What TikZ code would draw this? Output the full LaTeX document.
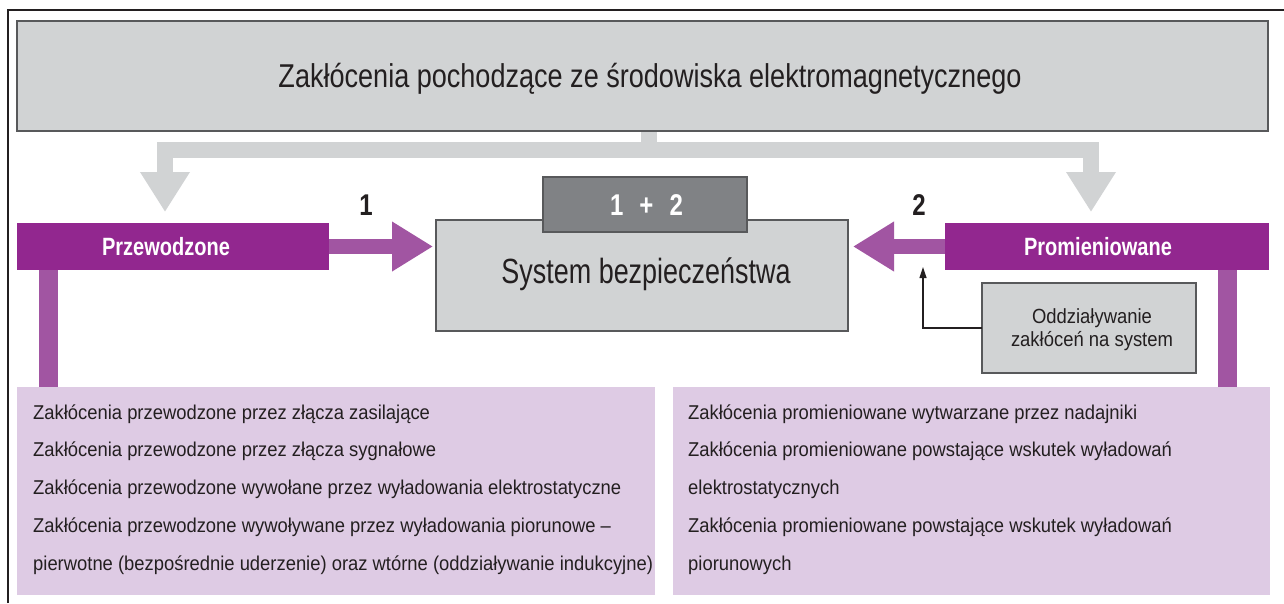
\documentclass[tikz,border=0pt]{standalone}
\usepackage{fontspec}
\setmainfont{Liberation Sans}[FakeStretch=0.8]
\newfontfamily\titlefont{Liberation Sans}[FakeStretch=0.82]
\newfontfamily\sysfont{Liberation Sans}[FakeStretch=0.77]
\newfontfamily\listfont{Liberation Sans}[FakeStretch=0.92]
\newfontfamily\notefont{Liberation Sans}[FakeStretch=0.9]
\usetikzlibrary{arrows.meta,calc}

\definecolor{ink}{HTML}{231F20}
\definecolor{boxgray}{HTML}{D1D3D4}
\definecolor{edgegray}{HTML}{58595B}
\definecolor{darkgray}{HTML}{808285}
\definecolor{mainpurple}{HTML}{92278F}
\definecolor{arrowpurple}{HTML}{A155A2}
\definecolor{lavender}{HTML}{DECBE4}

\begin{document}
\begin{tikzpicture}[x=1pt,y=-1pt,
  graybox/.style={draw=edgegray, line width=1.1pt, fill=boxgray, inner sep=0pt, outer sep=0pt},
  sumbox/.style={draw=edgegray, line width=1.1pt, fill=darkgray, inner sep=0pt, outer sep=0pt},
  purplebox/.style={fill=mainpurple, inner sep=0pt, outer sep=0pt},
  listbox/.style={fill=lavender, inner sep=0pt, outer sep=0pt},
  graybar/.style={draw=boxgray, line width=16pt, -{Triangle[width=47pt,length=40pt]}},
  parrow/.style={draw=arrowpurple, line width=15pt, -{Triangle[width=47pt,length=41pt]}},
  pbar/.style={draw=arrowpurple, line width=19pt},
  thinarrow/.style={draw=ink, line width=1.1pt, -{Triangle[width=7pt,length=11pt]}},
  txt/.style={inner sep=0pt, text depth=0pt, text=ink},
  listtxt/.style={anchor=base west, inner sep=0pt, text=ink, font=\listfont\fontsize{20}{20}\selectfont},
  notetxt/.style={anchor=base, inner sep=0pt, text=ink, font=\notefont\fontsize{20.5}{20.5}\selectfont},
]
\useasboundingbox (0,0) rectangle (1284,603);

% outer frame
\draw[ink, line width=1.1pt] (8,603) -- (8,10) -- (1284,10);

% main boxes
\node[graybox, minimum width=1251pt, minimum height=110pt] (title) at (642.5,76) {};
\node[purplebox, minimum width=312pt, minimum height=47pt] (prz) at (173,246.5) {};
\node[purplebox, minimum width=324pt, minimum height=47pt] (prom) at (1107,246.5) {};
\node[graybox, minimum width=412pt, minimum height=111pt] (sys) at (642,275.5) {};
\node[sumbox, minimum width=204pt, minimum height=55pt] (sum) at (645,204.5) {};
\node[listbox, minimum width=638pt, minimum height=208pt] (leftlist) at (336,491) {};
\node[listbox, minimum width=597pt, minimum height=208pt] (rightlist) at (971.5,491) {};
\node[graybox, minimum width=214pt, minimum height=90pt] (note) at (1089,328) {};

% distribution from the source to both coupling paths
\draw[graybar, shorten >=11pt] ($(title.south)+(6.5,0)$) -- ++(0,18.5) -| ($(prz.north)+(-8,0)$);
\draw[graybar, shorten >=11pt] ($(title.south)+(6.5,0)$) -- ++(0,18.5) -| ($(prom.north)+(-16,0)$);
\node[graybox, minimum width=1251pt, minimum height=110pt] at (title.center) {};

% coupling arrows into the system
\draw[parrow, shorten >=3pt] (prz.east) -- (prz.east -| sys.west);
\draw[parrow, shorten >=5pt] (prom.west) -- (prom.west -| sys.east);

% bars down to the lists
\coordinate (lbar) at ($(prz.south west)+(31.5,0)$);
\coordinate (rbar) at ($(prom.south east)+(-41.5,0)$);
\draw[pbar] (lbar) -- (lbar |- leftlist.north);
\draw[pbar] (rbar) -- (rbar |- rightlist.north);

% note arrow
\coordinate (hit) at (923,267);
\draw[thinarrow] (note.west) -| (hit);

% texts
\node[txt, text height=24pt, font=\titlefont\fontsize{33}{33}\selectfont] (titletxt) at (650,75)
  {Zakłócenia pochodzące ze środowiska elektromagnetycznego};
\node[txt, text height=25pt, font=\sysfont\fontsize{35}{35}\selectfont] (systxt) at (646,270.5)
  {System bezpieczeństwa};
\node[txt, text=white, text height=22pt, font=\bfseries\fontsize{30}{30}\selectfont] (sumtxt) at (646.5,204)
  {1\hspace{16pt}+\hspace{16pt}2};
\node[txt, text height=22pt, font=\bfseries\fontsize{30}{30}\selectfont] (one) at (366,204) {1};
\node[txt, text height=22pt, font=\bfseries\fontsize{30}{30}\selectfont] (two) at (919,204) {2};
\node[txt, text=white, text height=18pt, font=\bfseries\fontsize{25}{25}\selectfont] (prztxt) at (166,246.5)
  {Przewodzone};
\node[txt, text=white, text height=18pt, font=\bfseries\fontsize{25}{25}\selectfont] (promtxt) at (1098,246.5)
  {Promieniowane};
\node[notetxt] (note1) at (1092,323) {Oddziaływanie};
\node[notetxt] (note2) at (1092,346) {zakłóceń na system};

\foreach \t [count=\i] in {
  {Zakłócenia przewodzone przez złącza zasilające},
  {Zakłócenia przewodzone przez złącza sygnałowe},
  {Zakłócenia przewodzone wywołane przez wyładowania elektrostatyczne},
  {Zakłócenia przewodzone wywoływane przez wyładowania piorunowe –},
  {pierwotne (bezpośrednie uderzenie) oraz wtórne (oddziaływanie indukcyjne)}}
  \node[listtxt] (l\i) at (33,{419+37.75*(\i-1)}) {\t};

\foreach \t [count=\i] in {
  {Zakłócenia promieniowane wytwarzane przez nadajniki},
  {Zakłócenia promieniowane powstające wskutek wyładowań},
  {elektrostatycznych},
  {Zakłócenia promieniowane powstające wskutek wyładowań},
  {piorunowych}}
  \node[listtxt] (r\i) at (688,{419+37.75*(\i-1)}) {\t};
\end{tikzpicture}
\end{document}
